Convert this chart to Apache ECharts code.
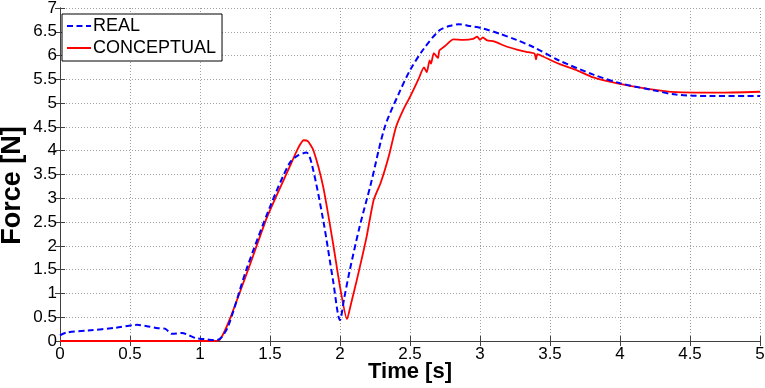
<!DOCTYPE html>
<html>
<head>
<meta charset="utf-8">
<script src="https://cdn.jsdelivr.net/npm/echarts@6/dist/echarts.min.js"></script>
<style>
  html, body { margin: 0; padding: 0; background: #fff; }
  #chart { width: 765px; height: 388px; }
</style>
</head>
<body>
<div id="chart"></div>
<script>
// REAL (blue dashed)
const realT = [0, 0.05, 0.2, 0.4, 0.55, 0.62, 0.7, 0.75, 0.8, 0.87, 0.92, 0.97, 1.03, 1.1, 1.14, 1.2, 1.33, 1.5, 1.64, 1.7, 1.76, 1.8, 1.88, 1.95, 2.0, 2.03, 2.07, 2.14, 2.22, 2.32, 2.42, 2.5, 2.6, 2.71, 2.78, 2.85, 2.93, 3.02, 3.14, 3.26, 3.38, 3.57, 3.81, 4.0, 4.24, 4.4, 4.64, 5.0];
const realF = [0.12, 0.18, 0.22, 0.28, 0.34, 0.31, 0.27, 0.26, 0.15, 0.17, 0.12, 0.06, 0.04, 0.02, 0.04, 0.3, 1.49, 2.82, 3.74, 3.9, 3.96, 3.7, 2.54, 1.28, 0.44, 0.9, 1.49, 2.4, 3.3, 4.5, 5.2, 5.69, 6.15, 6.53, 6.62, 6.66, 6.62, 6.57, 6.46, 6.33, 6.18, 5.89, 5.6, 5.42, 5.27, 5.18, 5.15, 5.15];

// CONCEPTUAL (red solid)
const concT = [0, 1.1, 1.14, 1.21, 1.36, 1.48, 1.64, 1.7, 1.74, 1.77, 1.81, 1.88, 1.95, 2.0, 2.05, 2.08, 2.12, 2.19, 2.24, 2.29, 2.35, 2.4, 2.45, 2.5, 2.56, 2.6, 2.62, 2.64, 2.65, 2.67, 2.7, 2.71, 2.75, 2.81, 2.88, 2.95, 2.98, 3.0, 3.02, 3.05, 3.1, 3.14, 3.2, 3.27, 3.33, 3.39, 3.4, 3.41, 3.45, 3.57, 3.7, 3.81, 3.99, 4.2, 4.4, 4.7, 5.0];
const concF = [0, 0, 0.02, 0.44, 1.63, 2.61, 3.66, 4.05, 4.22, 4.2, 4.01, 3.24, 2.06, 1.14, 0.46, 0.8, 1.28, 2.19, 2.96, 3.32, 3.9, 4.5, 4.85, 5.13, 5.5, 5.75, 5.65, 5.9, 5.83, 6.05, 5.95, 6.11, 6.2, 6.34, 6.33, 6.35, 6.4, 6.33, 6.38, 6.32, 6.3, 6.25, 6.18, 6.12, 6.08, 6.04, 5.92, 6.03, 5.98, 5.82, 5.68, 5.54, 5.41, 5.3, 5.23, 5.22, 5.24];

const pair = (xs, ys) => xs.map((x, i) => [x, ys[i]]);

const font = 'Liberation Sans, Arial, sans-serif';
const axisColor = '#404040';

const myChart = echarts.init(document.getElementById('chart'));

// top / right axes just close the box
const boxAxis = {
  type: 'value',
  axisLine: { show: true, lineStyle: { color: axisColor, width: 1 } },
  axisTick: { show: true, inside: true, length: 5, lineStyle: { color: axisColor } },
  axisLabel: { show: false },
  splitLine: { show: false }
};

myChart.setOption({
  animation: false,
  grid: { left: 60, right: 5, top: 8, bottom: 47, containLabel: false, outerBoundsMode: 'none' },
  legend: {
    data: ['REAL', 'CONCEPTUAL'],
    orient: 'vertical',
    left: 62,
    top: 14,
    backgroundColor: '#fff',
    borderColor: '#000',
    borderWidth: 1,
    padding: [3, 6, 4, 4],
    itemGap: 4,
    itemWidth: 24,
    itemHeight: 18,
    itemStyle: { opacity: 0 },
    textStyle: { fontFamily: font, fontSize: 18, color: '#000', padding: [0, 0, 0, -3] }
  },
  xAxis: [
    {
      type: 'value',
      min: 0,
      max: 5,
      interval: 0.5,
      name: 'Time [s]',
      nameLocation: 'middle',
      nameGap: 20,
      nameMoveOverlap: false,
      nameTextStyle: { fontFamily: font, fontSize: 22, fontWeight: 'bold', color: '#000' },
      axisLine: { show: true, onZero: false, lineStyle: { color: axisColor } },
      axisTick: { show: true, inside: true, length: 5, lineStyle: { color: axisColor } },
      axisLabel: { fontFamily: font, fontSize: 17, color: '#000', margin: 5 },
      splitLine: { show: true, lineStyle: { color: '#a0a0a0', type: [1, 2] } }
    },
    Object.assign({}, boxAxis, { position: 'top', min: 0, max: 5, interval: 0.5 })
  ],
  yAxis: [
    {
      type: 'value',
      min: 0,
      max: 7,
      interval: 0.5,
      name: 'Force [N]',
      nameLocation: 'middle',
      nameGap: 34,
      nameMoveOverlap: false,
      nameTextStyle: { fontFamily: font, fontSize: 27, fontWeight: 'bold', color: '#000', padding: [0, 22, 0, 0] },
      axisLine: { show: true, onZero: false, lineStyle: { color: axisColor } },
      axisTick: { show: true, inside: true, length: 5, lineStyle: { color: axisColor } },
      axisLabel: { fontFamily: font, fontSize: 17, color: '#000', margin: 3 },
      splitLine: { show: true, lineStyle: { color: '#a0a0a0', type: [1, 2] } }
    },
    Object.assign({}, boxAxis, { position: 'right', min: 0, max: 7, interval: 0.5 })
  ],
  series: [
    {
      name: 'REAL',
      type: 'line',
      data: pair(realT, realF),
      smooth: 0.3,
      symbol: 'none',
      lineStyle: { color: '#0000ff', width: 2, type: [6, 3.5] },
      itemStyle: { color: '#0000ff' },
      z: 3
    },
    {
      name: 'CONCEPTUAL',
      type: 'line',
      data: pair(concT, concF),
      smooth: 0.2,
      symbol: 'none',
      lineStyle: { color: '#ff0000', width: 1.8 },
      itemStyle: { color: '#ff0000' },
      z: 2
    }
  ]
});
</script>
</body>
</html>
